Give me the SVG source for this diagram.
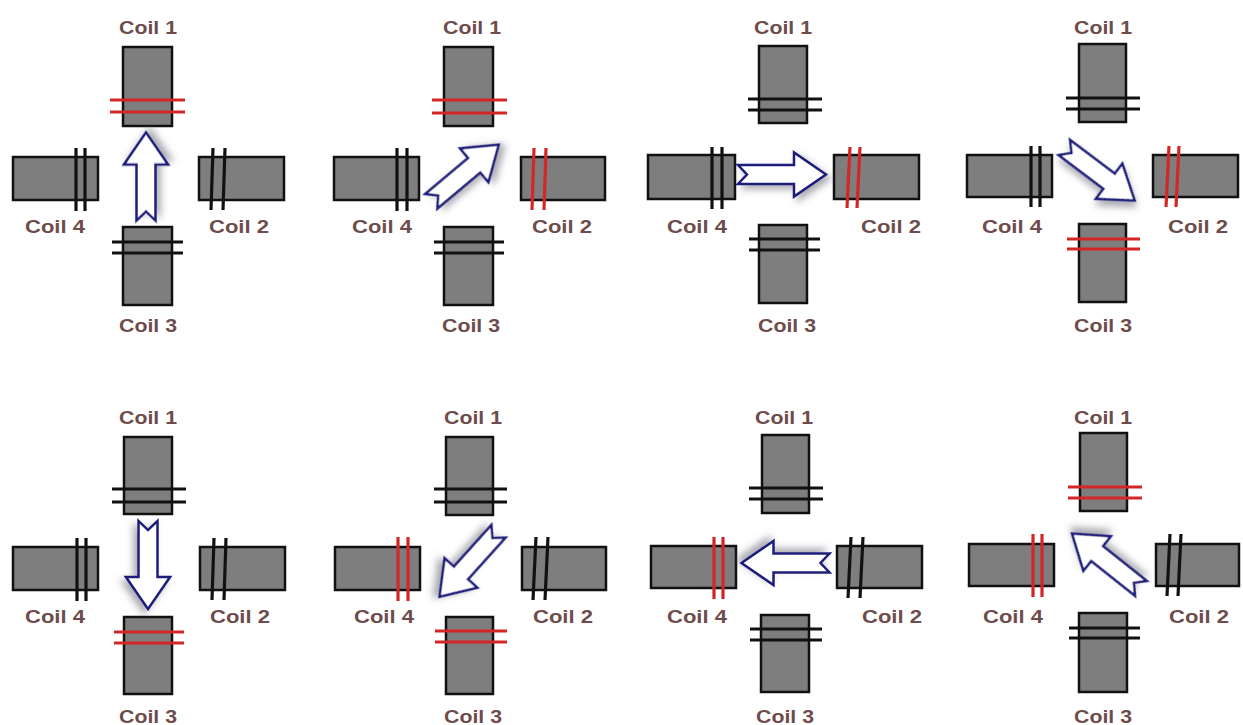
<svg xmlns="http://www.w3.org/2000/svg" xmlns:xlink="http://www.w3.org/1999/xlink" width="1243" height="725" viewBox="0 0 1243 725">
<style>
.core{fill:#7e7e7e;stroke:#111;stroke-width:2.5}
.wb{stroke:#111;stroke-width:3.2;fill:none}
.wr{stroke:#d42626;stroke-width:3.2;fill:none}
.lbl{font-family:"Liberation Sans",Arial,sans-serif;font-weight:bold;font-size:19px;fill:#6e4c4c;text-anchor:middle}
.arr{fill:#fff;stroke:#1f1f7c;stroke-width:2.5;stroke-linejoin:miter;filter:url(#sh)}
</style>
<defs>
<filter id="sh" x="-50%" y="-50%" width="200%" height="200%">
<feDropShadow dx="4" dy="4" stdDeviation="3.5" flood-color="#556" flood-opacity="0.5"/>
</filter>
<path id="arrow" d="M-44,-9.5 L12,-9.5 L12,-22 L44,0 L12,22 L12,9.5 L-44,9.5 L-35,0 Z"/>
</defs>
<rect width="1243" height="725" fill="#fff"/>

<!-- Panel 1 -->
<g id="p1">
<g id="p1-coil1"><rect class="core" x="123" y="47" width="49" height="79"/><path class="wr" d="M110,100H185M110,112H185"/><text class="lbl" x="148" y="34" textLength="58" lengthAdjust="spacingAndGlyphs">Coil 1</text></g>
<g id="p1-coil4"><rect class="core" x="13" y="157" width="85" height="43"/><path class="wb" d="M76,148V211M85,148V211"/><text class="lbl" x="55" y="233" textLength="60" lengthAdjust="spacingAndGlyphs">Coil 4</text></g>
<g id="p1-coil2"><rect class="core" x="199" y="157" width="85" height="43"/><path class="wb" d="M213,148L211,210M225,148L223,210"/><text class="lbl" x="239" y="233" textLength="60" lengthAdjust="spacingAndGlyphs">Coil 2</text></g>
<g id="p1-coil3"><rect class="core" x="123" y="227" width="49" height="78"/><path class="wb" d="M112,242H183M112,253H183"/><text class="lbl" x="148" y="332" textLength="58" lengthAdjust="spacingAndGlyphs">Coil 3</text></g>
</g>

<!-- Panel 2 -->
<g id="p2">
<g id="p2-coil1"><rect class="core" x="444" y="47" width="49" height="79"/><path class="wr" d="M432,100H507M432,113H507"/><text class="lbl" x="472" y="34" textLength="58" lengthAdjust="spacingAndGlyphs">Coil 1</text></g>
<g id="p2-coil4"><rect class="core" x="334" y="157" width="85" height="43"/><path class="wb" d="M397,148V211M407,148V211"/><text class="lbl" x="382" y="233" textLength="60" lengthAdjust="spacingAndGlyphs">Coil 4</text></g>
<g id="p2-coil2"><rect class="core" x="521" y="157" width="84" height="43"/><path class="wr" d="M534,148L532,210M546,148L544,210"/><text class="lbl" x="562" y="233" textLength="60" lengthAdjust="spacingAndGlyphs">Coil 2</text></g>
<g id="p2-coil3"><rect class="core" x="444" y="227" width="49" height="78"/><path class="wb" d="M434,242H504M434,253H504"/><text class="lbl" x="471" y="332" textLength="58" lengthAdjust="spacingAndGlyphs">Coil 3</text></g>
</g>

<!-- Panel 3 -->
<g id="p3">
<g id="p3-coil1"><rect class="core" x="759" y="46" width="48" height="77"/><path class="wb" d="M748,99H822M748,110H822"/><text class="lbl" x="783" y="34" textLength="58" lengthAdjust="spacingAndGlyphs">Coil 1</text></g>
<g id="p3-coil4"><rect class="core" x="648" y="155" width="87" height="44"/><path class="wb" d="M712,147V209M722,147V209"/><text class="lbl" x="697" y="233" textLength="60" lengthAdjust="spacingAndGlyphs">Coil 4</text></g>
<g id="p3-coil2"><rect class="core" x="834" y="155" width="85" height="44"/><path class="wr" d="M850,147L847,208M860,147L857,208"/><text class="lbl" x="891" y="233" textLength="60" lengthAdjust="spacingAndGlyphs">Coil 2</text></g>
<g id="p3-coil3"><rect class="core" x="759" y="225" width="48" height="78"/><path class="wb" d="M749,239H820M749,250H820"/><text class="lbl" x="787" y="332" textLength="58" lengthAdjust="spacingAndGlyphs">Coil 3</text></g>
</g>

<!-- Panel 4 -->
<g id="p4">
<g id="p4-coil1"><rect class="core" x="1079" y="44" width="47" height="78"/><path class="wb" d="M1066,98H1140M1066,109H1140"/><text class="lbl" x="1103" y="34" textLength="58" lengthAdjust="spacingAndGlyphs">Coil 1</text></g>
<g id="p4-coil4"><rect class="core" x="967" y="155" width="85" height="42"/><path class="wb" d="M1031,146V207M1040,146V207"/><text class="lbl" x="1012" y="233" textLength="60" lengthAdjust="spacingAndGlyphs">Coil 4</text></g>
<g id="p4-coil2"><rect class="core" x="1153" y="155" width="85" height="42"/><path class="wr" d="M1169,146L1166,207M1179,146L1176,207"/><text class="lbl" x="1198" y="233" textLength="60" lengthAdjust="spacingAndGlyphs">Coil 2</text></g>
<g id="p4-coil3"><rect class="core" x="1079" y="224" width="47" height="78"/><path class="wr" d="M1067,239H1140M1067,249H1140"/><text class="lbl" x="1103" y="332" textLength="58" lengthAdjust="spacingAndGlyphs">Coil 3</text></g>
</g>

<!-- Panel 5 -->
<g id="p5">
<g id="p5-coil1"><rect class="core" x="124" y="437" width="48" height="77"/><path class="wb" d="M112,489H186M112,502H186"/><text class="lbl" x="148" y="424" textLength="58" lengthAdjust="spacingAndGlyphs">Coil 1</text></g>
<g id="p5-coil4"><rect class="core" x="13" y="547" width="85" height="43"/><path class="wb" d="M77,538V601M86,538V601"/><text class="lbl" x="55" y="623" textLength="60" lengthAdjust="spacingAndGlyphs">Coil 4</text></g>
<g id="p5-coil2"><rect class="core" x="200" y="547" width="85" height="43"/><path class="wb" d="M214,538L212,600M226,538L224,600"/><text class="lbl" x="240" y="623" textLength="60" lengthAdjust="spacingAndGlyphs">Coil 2</text></g>
<g id="p5-coil3"><rect class="core" x="124" y="617" width="48" height="77"/><path class="wr" d="M114,632H184M114,643H184"/><text class="lbl" x="148" y="723" textLength="58" lengthAdjust="spacingAndGlyphs">Coil 3</text></g>
</g>

<!-- Panel 6 -->
<g id="p6">
<g id="p6-coil1"><rect class="core" x="446" y="437" width="47" height="78"/><path class="wb" d="M434,489H507M434,502H507"/><text class="lbl" x="473" y="424" textLength="58" lengthAdjust="spacingAndGlyphs">Coil 1</text></g>
<g id="p6-coil4"><rect class="core" x="335" y="547" width="85" height="43"/><path class="wr" d="M398,537V601M408,537V601"/><text class="lbl" x="384" y="623" textLength="60" lengthAdjust="spacingAndGlyphs">Coil 4</text></g>
<g id="p6-coil2"><rect class="core" x="522" y="547" width="84" height="43"/><path class="wb" d="M536,537L533,600M548,537L545,600"/><text class="lbl" x="563" y="623" textLength="60" lengthAdjust="spacingAndGlyphs">Coil 2</text></g>
<g id="p6-coil3"><rect class="core" x="446" y="617" width="47" height="77"/><path class="wr" d="M435,631H507M435,642H507"/><text class="lbl" x="473" y="723" textLength="58" lengthAdjust="spacingAndGlyphs">Coil 3</text></g>
</g>

<!-- Panel 7 -->
<g id="p7">
<g id="p7-coil1"><rect class="core" x="762" y="435" width="47" height="78"/><path class="wb" d="M749,488H823M749,499H823"/><text class="lbl" x="784" y="424" textLength="58" lengthAdjust="spacingAndGlyphs">Coil 1</text></g>
<g id="p7-coil4"><rect class="core" x="651" y="546" width="85" height="42"/><path class="wr" d="M714,537V599M723,537V599"/><text class="lbl" x="697" y="623" textLength="60" lengthAdjust="spacingAndGlyphs">Coil 4</text></g>
<g id="p7-coil2"><rect class="core" x="837" y="546" width="85" height="42"/><path class="wb" d="M851,537L848,598M863,537L860,598"/><text class="lbl" x="892" y="623" textLength="60" lengthAdjust="spacingAndGlyphs">Coil 2</text></g>
<g id="p7-coil3"><rect class="core" x="761" y="615" width="48" height="77"/><path class="wb" d="M750,629H822M750,640H822"/><text class="lbl" x="785" y="723" textLength="58" lengthAdjust="spacingAndGlyphs">Coil 3</text></g>
</g>

<!-- Panel 8 -->
<g id="p8">
<g id="p8-coil1"><rect class="core" x="1080" y="433" width="47" height="78"/><path class="wr" d="M1068,487H1142M1068,498H1142"/><text class="lbl" x="1103" y="424" textLength="58" lengthAdjust="spacingAndGlyphs">Coil 1</text></g>
<g id="p8-coil4"><rect class="core" x="969" y="544" width="85" height="42"/><path class="wr" d="M1033,534V597M1042,534V597"/><text class="lbl" x="1013" y="623" textLength="60" lengthAdjust="spacingAndGlyphs">Coil 4</text></g>
<g id="p8-coil2"><rect class="core" x="1156" y="544" width="83" height="42"/><path class="wb" d="M1170,534L1167,596M1181,534L1178,596"/><text class="lbl" x="1199" y="623" textLength="60" lengthAdjust="spacingAndGlyphs">Coil 2</text></g>
<g id="p8-coil3"><rect class="core" x="1079" y="613" width="48" height="79"/><path class="wb" d="M1069,628H1140M1069,638H1140"/><text class="lbl" x="1103" y="723" textLength="58" lengthAdjust="spacingAndGlyphs">Coil 3</text></g>
</g>

<!-- Field arrows -->
<g id="connectors">
<use xlink:href="#arrow" href="#arrow" class="arr" transform="translate(146,176.5) rotate(-90)"/>
<use xlink:href="#arrow" href="#arrow" class="arr" transform="translate(465,173) rotate(-40)"/>
<use xlink:href="#arrow" href="#arrow" class="arr" transform="translate(782,174.5)"/>
<use xlink:href="#arrow" href="#arrow" class="arr" transform="translate(1099.5,174) rotate(37)"/>
<use xlink:href="#arrow" href="#arrow" class="arr" transform="translate(148,565) rotate(90)"/>
<use xlink:href="#arrow" href="#arrow" class="arr" transform="translate(469,564) rotate(132)"/>
<use xlink:href="#arrow" href="#arrow" class="arr" transform="translate(785.5,563) rotate(180)"/>
<use xlink:href="#arrow" href="#arrow" class="arr" transform="translate(1106.5,561) rotate(218.5)"/>
</g>
</svg>
